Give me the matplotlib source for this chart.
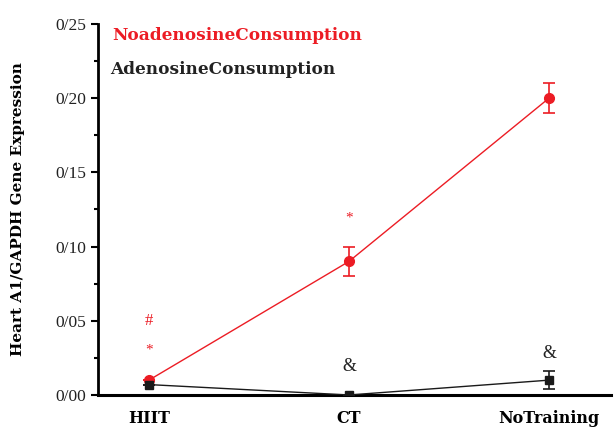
import matplotlib
matplotlib.use("Agg")
import matplotlib.pyplot as plt
from matplotlib.ticker import MultipleLocator

categories = ["HIIT", "CT", "NoTraining"]
no_aden = [0.010, 0.090, 0.200]
no_aden_err = [0.0, 0.010, 0.010]
aden = [0.007, 0.000, 0.010]
aden_err = [0.0, 0.0, 0.006]
yticks = [0.0, 0.05, 0.10, 0.15, 0.20, 0.25]
ytick_labels = ["0/00", "0/05", "0/10", "0/15", "0/20", "0/25"]

red = "#ec1c24"
serif = ["Liberation Serif", "DejaVu Serif"]
bserif = ["DejaVu Serif"]

fig = plt.figure(figsize=(6.16, 4.29), dpi=100)
ax = fig.add_axes([0.159, 0.0793, 0.833, 0.865])
x = list(range(len(categories)))

ax.errorbar(x, no_aden, yerr=no_aden_err, color=red, marker="o", markersize=7,
            linewidth=1, elinewidth=1.2, capsize=4, capthick=1.2, zorder=3)
ax.errorbar(x, aden, yerr=aden_err, color="#1a1a1a", marker="s", markersize=6,
            linewidth=1, elinewidth=1.2, capsize=4, capthick=1.2, zorder=4)

ax.set_xlim(-0.255, 2.31)
ax.set_ylim(0, 0.25)
ax.set_yticks(yticks)
ax.set_yticklabels(ytick_labels, fontsize=12.5, family=serif, color="#222222")
ax.yaxis.set_minor_locator(MultipleLocator(0.025))
ax.set_xticks(x)
ax.set_xticklabels(categories, fontsize=11.5, family=bserif, fontweight="bold")
ax.tick_params(axis="x", length=0, pad=11)
ax.tick_params(axis="y", which="major", length=5, width=1.5, direction="out")
ax.tick_params(axis="y", which="minor", length=3, width=1.5, direction="out")

for s in ["top", "right"]:
    ax.spines[s].set_visible(False)
ax.spines["left"].set_linewidth(2)
ax.spines["bottom"].set_linewidth(2.2)

ax.set_ylabel("Heart A1/GAPDH Gene Expression", fontsize=11, family=bserif,
              fontweight="bold", labelpad=22)

# significance marks
ax.text(0, 0.03, "*", color=red, fontsize=11, ha="center", va="center", family=serif)
ax.text(0, 0.05, "#", color=red, fontsize=12, ha="center", va="center", family=serif)
ax.text(1, 0.119, "*", color=red, fontsize=11, ha="center", va="center", family=serif)
ax.text(1, 0.019, "&", color="#222222", fontsize=13, ha="center", va="center", family=serif)
ax.text(2, 0.028, "&", color="#222222", fontsize=13, ha="center", va="center", family=serif)

# legend-like labels
fig.text(112 / 616, 1 - 35 / 429, "NoadenosineConsumption", color=red, fontsize=12.2,
         family=bserif, fontweight="bold", ha="left", va="center")
fig.text(110 / 616, 1 - 69 / 429, "AdenosineConsumption", color="#222222", fontsize=12.2,
         family=bserif, fontweight="bold", ha="left", va="center")

fig.savefig("out.png", dpi=100)
